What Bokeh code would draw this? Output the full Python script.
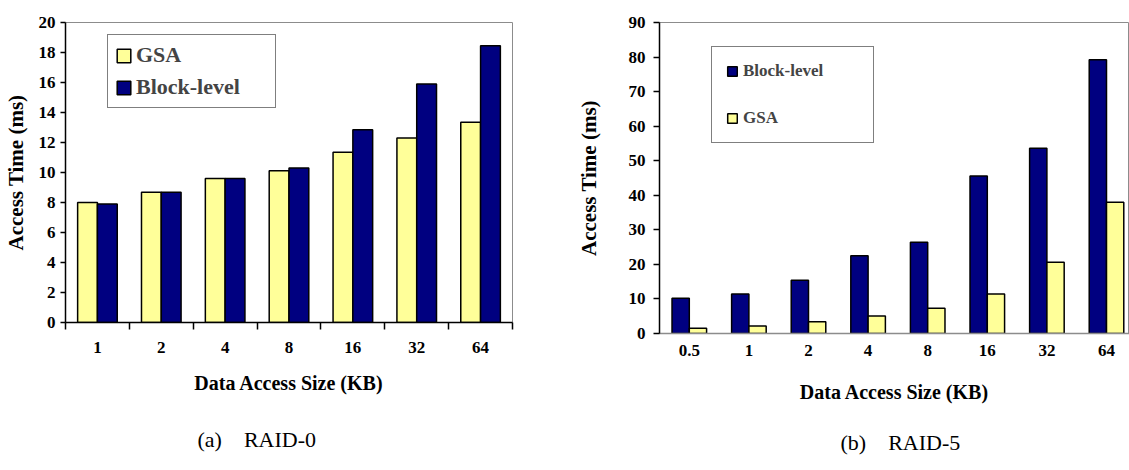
from bokeh.plotting import figure
from bokeh.models import (Range1d, FixedTicker, Legend, LegendItem, Title)
from bokeh.layouts import row
from bokeh.embed import file_html
from bokeh.resources import INLINE

# ---------------- data ----------------
sizes_a = ["1", "2", "4", "8", "16", "32", "64"]
gsa_a = [8.0, 8.68, 9.6, 10.12, 11.35, 12.3, 13.35]
block_a = [7.9, 8.68, 9.6, 10.3, 12.85, 15.9, 18.45]

sizes_b = ["0.5", "1", "2", "4", "8", "16", "32", "64"]
block_b = [10.2, 11.4, 15.4, 22.5, 26.4, 45.6, 53.6, 79.2]
gsa_b = [1.5, 2.2, 3.4, 5.1, 7.3, 11.4, 20.6, 38.0]

yticks_a = list(range(0, 21, 2))
yticks_b = list(range(0, 91, 10))

caption_a = "(a)\u00a0\u00a0\u00a0\u00a0RAID-0"
caption_b = "(b)\u00a0\u00a0\u00a0\u00a0RAID-5"

YELLOW = "#FFFF99"
NAVY = "#000080"
FONT = "Liberation Serif"
GRAY = "#8c8c8c"


def style_common(p):
    p.outline_line_color = GRAY
    p.outline_line_width = 1
    p.xgrid.visible = False
    p.ygrid.visible = False
    p.background_fill_color = "white"
    p.border_fill_color = "white"
    for ax in (p.xaxis[0], p.yaxis[0]):
        ax.major_label_text_font = FONT
        ax.major_label_text_font_style = "bold"
        ax.major_label_text_color = "black"
        ax.axis_label_text_font = FONT
        ax.axis_label_text_font_style = "bold"
        ax.axis_label_text_color = "black"
        ax.minor_tick_line_color = None


# ---------------- chart (a) ----------------
n_a = len(sizes_a)
xs_a = list(range(n_a))
pa = figure(frame_width=447, frame_height=300, min_border_left=65, min_border_right=48,
            min_border_top=22, min_border_bottom=148,
            x_range=Range1d(-0.5, n_a - 0.5), y_range=Range1d(0, 20),
            output_backend="svg", toolbar_location=None)
bw_a = 0.31
r_gsa_a = pa.vbar(x=[x - bw_a / 2 for x in xs_a], top=gsa_a, width=bw_a, bottom=0,
                  fill_color=YELLOW, line_color="black", line_width=1.5)
r_blk_a = pa.vbar(x=[x + bw_a / 2 for x in xs_a], top=block_a, width=bw_a, bottom=0,
                  fill_color=NAVY, line_color="black", line_width=1.5)
style_common(pa)
xa = pa.xaxis[0]
xa.ticker = FixedTicker(ticks=xs_a, minor_ticks=[x - 0.5 for x in xs_a] + [n_a - 0.5])
xa.major_label_overrides = {x: s for x, s in zip(xs_a, sizes_a)}
xa.major_tick_line_color = None
xa.major_tick_out = 0
xa.minor_tick_line_color = "black"
xa.minor_tick_line_width = 1.5
xa.minor_tick_out = 7
xa.minor_tick_in = 0
xa.axis_line_color = "black"
xa.axis_line_width = 1.5
xa.major_label_text_font_size = "17px"
xa.major_label_standoff = 12
xa.axis_label = "Data Access Size (KB)"
xa.axis_label_text_font_size = "20px"
xa.axis_label_standoff = 16
ya = pa.yaxis[0]
ya.ticker = FixedTicker(ticks=yticks_a)
ya.major_tick_out = 5
ya.major_tick_in = 0
ya.major_tick_line_width = 1.5
ya.axis_line_width = 1.5
ya.major_label_text_font_size = "17px"
ya.major_label_standoff = 5
ya.axis_label = "Access Time (ms)"
ya.axis_label_text_font_size = "21px"
ya.axis_label_standoff = 8

leg_a = Legend(items=[LegendItem(label="GSA", renderers=[r_gsa_a]),
                      LegendItem(label="Block-level", renderers=[r_blk_a])],
               location=(42, 214), border_line_color="black", border_line_width=1.5,
               padding=7, spacing=6, glyph_width=17, glyph_height=17,
               label_height=17, label_width=132, label_standoff=4,
               label_text_font=FONT, label_text_font_style="bold",
               label_text_font_size="22px", margin=0, background_fill_alpha=1)
pa.add_layout(leg_a)

pa.add_layout(Title(text=caption_a, align="left", offset=132, standoff=56,
                    text_font=FONT, text_font_style="normal", text_font_size="22px",
                    text_color="black"), "below")

# ---------------- chart (b) ----------------
n_b = len(sizes_b)
xs_b = list(range(n_b))
step_b = 59.6
pb = figure(frame_width=470, frame_height=311, min_border_left=99, min_border_right=0,
            min_border_top=16, min_border_bottom=143,
            x_range=Range1d(-0.5, -0.5 + 470 / step_b), y_range=Range1d(0, 90),
            output_backend="svg", toolbar_location=None)
bw_b = 0.29
r_blk_b = pb.vbar(x=[x - bw_b / 2 for x in xs_b], top=block_b, width=bw_b, bottom=0,
                  fill_color=NAVY, line_color="black", line_width=1.5)
r_gsa_b = pb.vbar(x=[x + bw_b / 2 for x in xs_b], top=gsa_b, width=bw_b, bottom=0,
                  fill_color=YELLOW, line_color="black", line_width=1.5)
style_common(pb)
xb = pb.xaxis[0]
xb.ticker = FixedTicker(ticks=xs_b)
xb.major_label_overrides = {x: s for x, s in zip(xs_b, sizes_b)}
xb.major_tick_line_color = None
xb.major_tick_out = 0
xb.axis_line_color = GRAY
xb.axis_line_width = 1.5
xb.major_label_text_font_size = "17px"
xb.major_label_standoff = 11
xb.axis_label = "Data Access Size (KB)"
xb.axis_label_text_font_size = "20px"
xb.axis_label_standoff = 22
yb = pb.yaxis[0]
yb.ticker = FixedTicker(ticks=yticks_b)
yb.major_tick_out = 6
yb.major_tick_in = 0
yb.major_tick_line_width = 1.5
yb.axis_line_width = 1.5
yb.major_label_text_font_size = "17px"
yb.major_label_standoff = 8
yb.axis_label = "Access Time (ms)"
yb.axis_label_text_font_size = "21px"
yb.axis_label_standoff = 25

leg_b = Legend(items=[LegendItem(label="Block-level", renderers=[r_blk_b]),
                      LegendItem(label="GSA", renderers=[r_gsa_b])],
               location=(52, 190), border_line_color="black", border_line_width=1.5,
               padding=14, spacing=27, glyph_width=12, glyph_height=12,
               label_height=18, label_width=116, label_standoff=5,
               label_text_font=FONT, label_text_font_style="bold",
               label_text_font_size="17px", margin=0, background_fill_alpha=1)
pb.add_layout(leg_b)

pb.add_layout(Title(text=caption_b, align="left", offset=181, standoff=44,
                    text_font=FONT, text_font_style="normal", text_font_size="22px",
                    text_color="black"), "below")

layout = row(pa, pb, spacing=0)
open("out.html", "w").write(file_html(layout, INLINE))
